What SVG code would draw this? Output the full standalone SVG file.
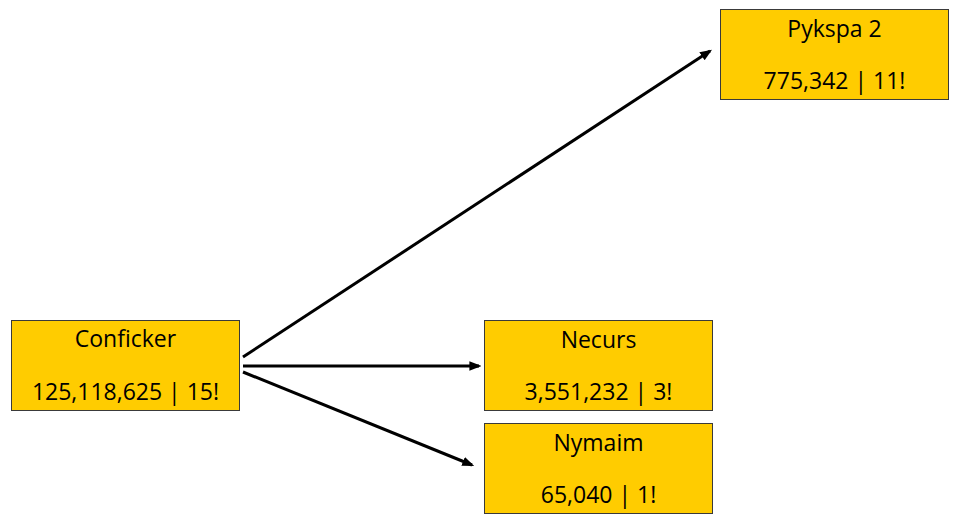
<svg xmlns="http://www.w3.org/2000/svg" width="964" height="525" viewBox="0 0 964 525">
<style>
.box{fill:#FFCC00;stroke:#3a3a3a;stroke-width:1}
.t{font-family:"Open Sans","Noto Sans","Liberation Sans",sans-serif;font-size:23px;fill:#000;text-anchor:middle}
.c{stroke:#000;stroke-width:3;fill:none;marker-end:url(#ah)}
</style>
<defs>
<marker id="ah" markerWidth="4" markerHeight="4" refX="3.2" refY="2" orient="auto" markerUnits="strokeWidth">
<path d="M0,0.4 L4,2 L0,3.6 Z" fill="#000"/>
</marker>
</defs>
<rect width="964" height="525" fill="#fff"/>
<g id="connectors">
<line class="c" x1="243" y1="357" x2="710" y2="51"/>
<line class="c" x1="243" y1="366" x2="479" y2="366"/>
<line class="c" x1="243" y1="372" x2="472" y2="465"/>
</g>
<g id="conficker">
<rect class="box" x="11.5" y="320.5" width="228" height="90"/>
<text class="t" x="125.5" y="347">Conficker</text>
<text class="t" x="125.5" y="400">125,118,625 | 15!</text>
</g>
<g id="pykspa">
<rect class="box" x="720.5" y="9.5" width="228" height="90"/>
<text class="t" x="834.5" y="37">Pykspa 2</text>
<text class="t" x="834.5" y="89">775,342 | 11!</text>
</g>
<g id="necurs">
<rect class="box" x="484.5" y="320.5" width="228" height="90"/>
<text class="t" x="598.5" y="348">Necurs</text>
<text class="t" x="598.5" y="400">3,551,232 | 3!</text>
</g>
<g id="nymaim">
<rect class="box" x="484.5" y="423.5" width="228" height="90"/>
<text class="t" x="598.5" y="451">Nymaim</text>
<text class="t" x="598.5" y="503">65,040 | 1!</text>
</g>
</svg>
